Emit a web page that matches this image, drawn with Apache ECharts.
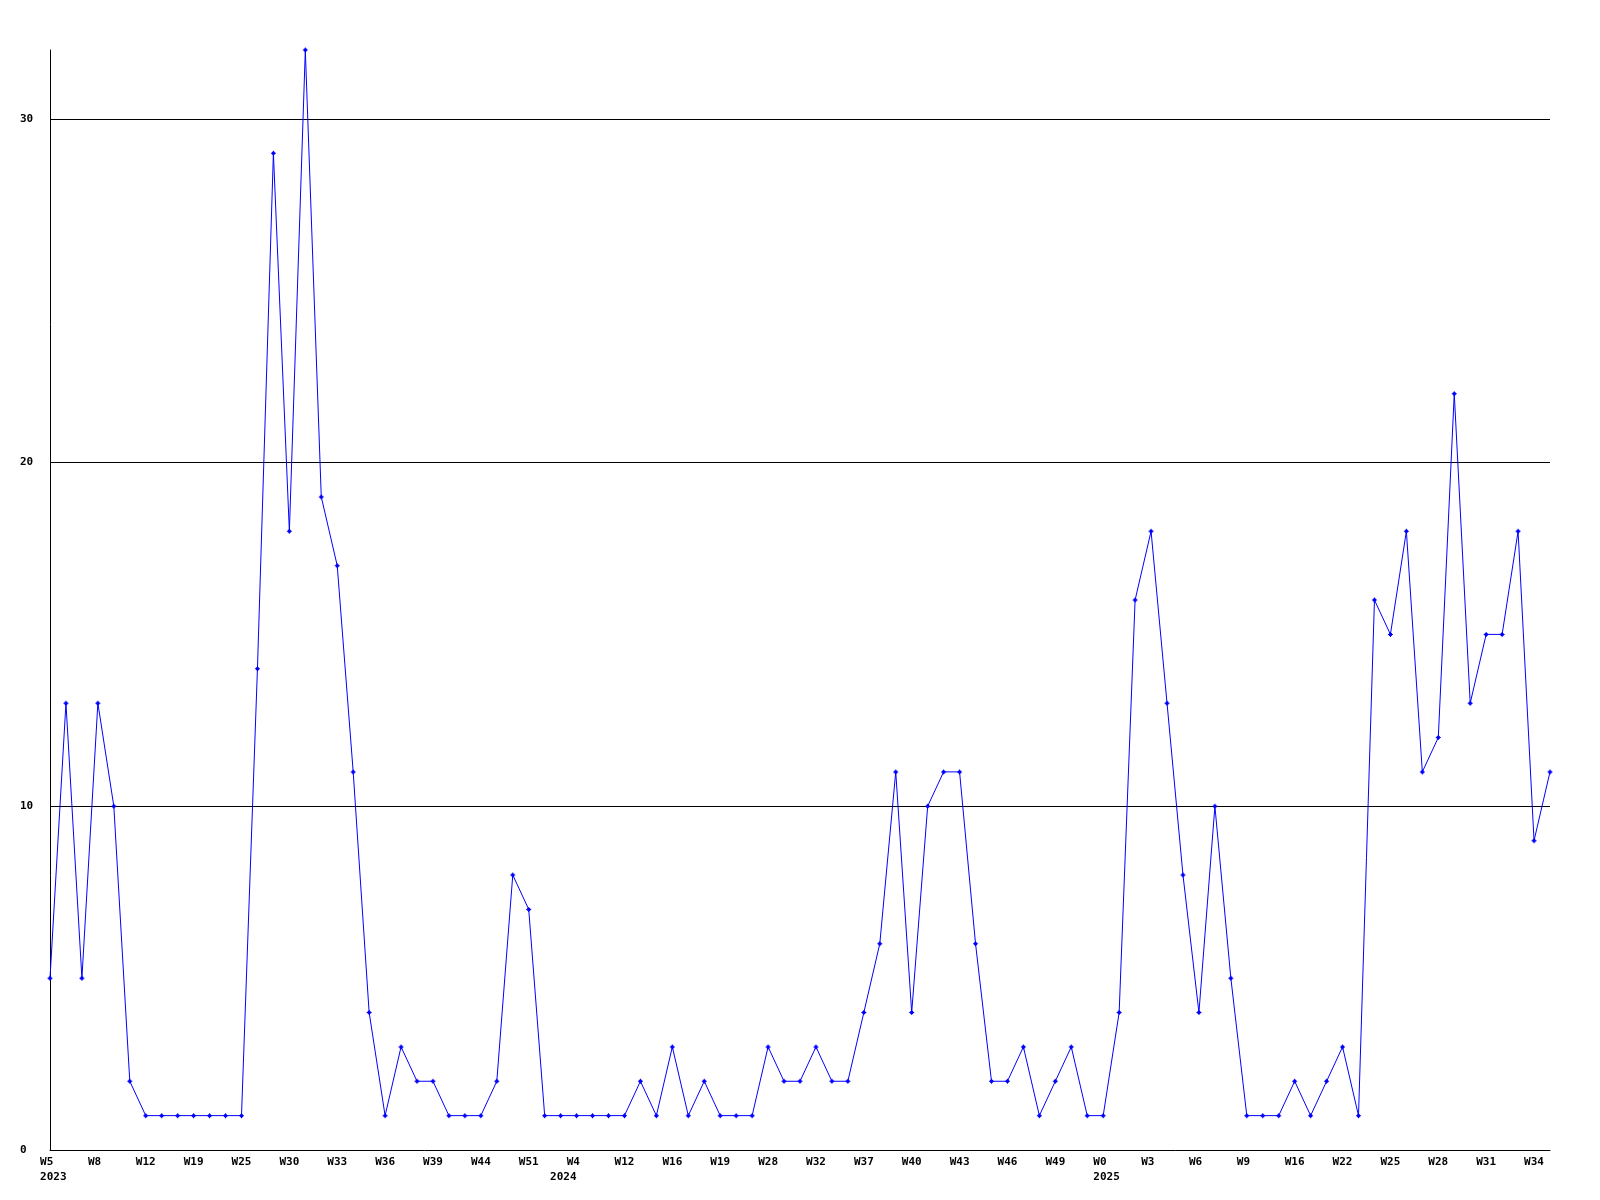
<!DOCTYPE html>
<html>
<head>
<meta charset="utf-8">
<script src="https://cdn.jsdelivr.net/npm/echarts@6/dist/echarts.min.js"></script>
<style>
html,body{margin:0;padding:0;background:#fff;}
#chart{width:1600px;height:1200px;}
</style>
</head>
<body>
<div id="chart"></div>
<script>
// Weekly values (95 points)
const values = [5,13,5,13,10,2,1,1,1,1,1,1,1,14,29,18,32,19,17,11,4,1,3,2,2,1,1,1,2,8,7,1,1,1,1,1,1,2,1,3,1,2,1,1,1,3,2,2,3,2,2,4,6,11,4,10,11,11,6,2,2,3,1,2,3,1,1,4,16,18,13,8,4,10,5,1,1,1,2,1,2,3,1,16,15,18,11,12,22,13,15,15,18,9,11];
// Tick labels, shown at every third point
const tickLabels = ['W5','W8','W12','W19','W25','W30','W33','W36','W39','W44','W51','W4','W12','W16','W19','W28','W32','W37','W40','W43','W46','W49','W0','W3','W6','W9','W16','W22','W25','W28','W31','W34'];
// Year labels under a tick label (tick label slot -> year)
const yearSlots = [0, 11, 22];
const yearTexts = ['2023', '2024', '2025'];
const yAxisTicks = [0, 10, 20, 30];

const categories = values.map((v, i) => (i % 3 === 0 && tickLabels[i / 3] !== undefined) ? tickLabels[i / 3] : '');

function pad3(s) { return s.length < 3 ? s + ' ' : s; }

const chart = echarts.init(document.getElementById('chart'), null, {renderer: 'canvas'});
const font = '"DejaVu Sans Mono", "Liberation Mono", monospace';

chart.setOption({
  animation: false,
  backgroundColor: '#ffffff',
  grid: {left: 50, right: 50, top: 50, bottom: 50, containLabel: false},
  xAxis: {
    type: 'category',
    data: categories,
    boundaryGap: false,
    axisLine: {show: true, lineStyle: {color: '#000', width: 1}},
    axisTick: {show: false},
    splitLine: {show: false},
    axisLabel: {
      interval: 2,
      margin: 5,
      color: '#000',
      fontFamily: font,
      fontWeight: 'bold',
      fontSize: 11,
      lineHeight: 15,
      align: 'center',
      formatter: function (val, idx) {
        const slot = idx / 3;
        let s = pad3(val);
        const yi = yearSlots.indexOf(slot);
        if (yi >= 0) {
          if (yi === 1) s += '\n' + yearTexts[yi] + '    ';
          else s += '\n ' + yearTexts[yi];
        }
        return s;
      }
    }
  },
  yAxis: {
    type: 'value',
    min: 0,
    max: 32,
    interval: 10,
    axisLine: {show: true, lineStyle: {color: '#000', width: 1}},
    axisTick: {show: false},
    splitLine: {show: true, showMinLine: false, showMaxLine: false, lineStyle: {color: '#000', width: 1}},
    axisLabel: {
      showMaxLabel: false,
      margin: 30,
      align: 'left',
      color: '#000',
      fontFamily: font,
      fontWeight: 'bold',
      fontSize: 11,
      formatter: function (v) { return yAxisTicks.indexOf(v) >= 0 ? String(v) : ''; }
    }
  },
  series: [{
    type: 'line',
    data: values,
    symbol: 'path://M2,0 L3,0 L3,1 L4,1 L4,2 L5,2 L5,3 L4,3 L4,4 L3,4 L3,5 L2,5 L2,4 L1,4 L1,3 L0,3 L0,2 L1,2 L1,1 L2,1 Z',
    symbolSize: 5,
    showAllSymbol: true,
    clip: true,
    lineStyle: {color: '#0000ff', width: 1},
    itemStyle: {color: '#0000ff', borderWidth: 0},
    emphasis: {disabled: true}
  }]
});
</script>
</body>
</html>
